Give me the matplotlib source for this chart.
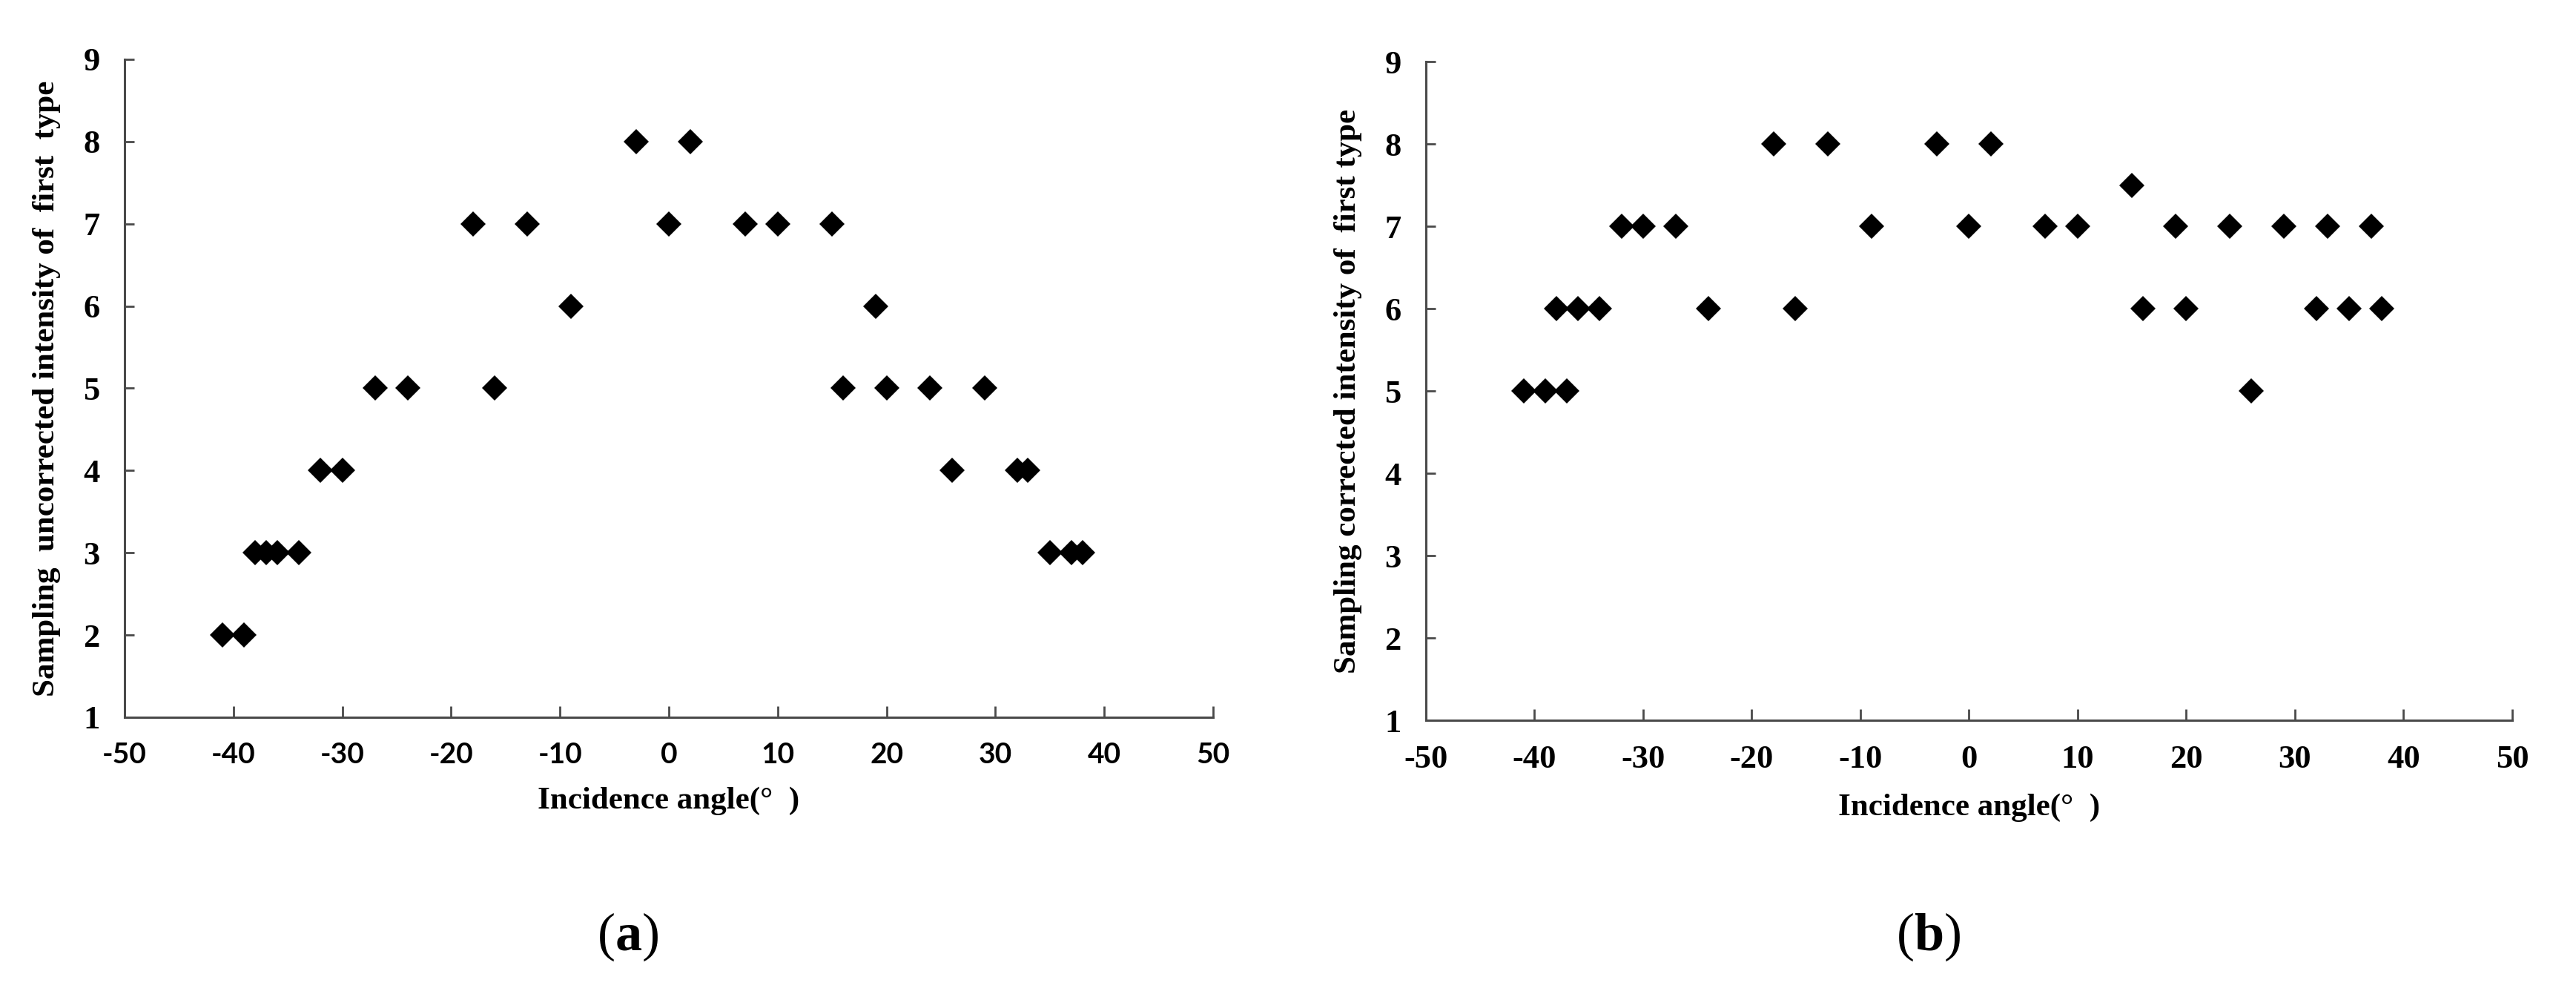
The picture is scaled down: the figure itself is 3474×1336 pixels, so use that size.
import matplotlib
matplotlib.use("Agg")
import matplotlib.pyplot as plt

# incidence angles (deg), same for both panels
angles = [-41, -39, -38, -37, -36, -34, -32, -30, -27, -24, -18, -16, -13, -9, -3,
          0, 2, 7, 10, 15, 16, 19, 20, 24, 26, 29, 32, 33, 35, 37, 38]
# (a) uncorrected intensity
uncorrected = [2, 2, 3, 3, 3, 3, 4, 4, 5, 5, 7, 5, 7, 6, 8,
               7, 8, 7, 7, 7, 5, 6, 5, 5, 4, 5, 4, 4, 3, 3, 3]
# (b) corrected intensity
corrected = [5, 5, 6, 5, 6, 6, 7, 7, 7, 6, 8, 6, 8, 7, 8,
             7, 8, 7, 7, 7.5, 6, 7, 6, 7, 5, 7, 6, 7, 6, 7, 6]

x_ticks = [-50, -40, -30, -20, -10, 0, 10, 20, 30, 40, 50]
y_ticks = [1, 2, 3, 4, 5, 6, 7, 8, 9]

plt.rcParams['axes.unicode_minus'] = False
plt.rcParams['mathtext.fontset'] = 'custom'
plt.rcParams['mathtext.rm'] = 'Liberation Serif'
plt.rcParams['mathtext.bf'] = 'Liberation Serif:bold'

serif = 'Liberation Serif'
axis_col = '#4a4a4a'

fig = plt.figure(figsize=(34.74, 13.36), dpi=100)
ax_a = fig.add_axes([0.04836, 0.2762, 0.42257, 0.66392])
ax_b = fig.add_axes([0.55354, 0.2732, 0.42170, 0.66467])

panels = [
    (ax_a, uncorrected, 'Sampling  uncorrected intensity of  first  type', True),
    (ax_b, corrected, 'Sampling corrected intensity of  first type', False),
]

for ax, vals, ylab, sans_x in panels:
    ax.plot(angles, vals, linestyle='none', marker='D', markersize=17,
            color='black', markeredgewidth=0)
    ax.set_xlim(-50, 50)
    ax.set_ylim(1, 9)
    ax.set_xticks(x_ticks)
    ax.set_yticks(y_ticks)
    for s in ['top', 'right']:
        ax.spines[s].set_visible(False)
    for s in ['left', 'bottom']:
        ax.spines[s].set_color(axis_col)
        ax.spines[s].set_linewidth(2.2)
    ax.tick_params(axis='x', direction='in', length=11, width=2, color=axis_col, pad=24)
    ax.tick_params(axis='y', direction='in', length=9, width=2, color=axis_col, pad=24)
    for lbl in ax.get_xticklabels():
        if sans_x:
            lbl.set_fontfamily('Lato')
            lbl.set_fontweight('bold')
            lbl.set_fontsize(28)
        else:
            lbl.set_fontfamily(serif)
            lbl.set_fontweight('bold')
            lbl.set_fontsize(32)
    for lbl in ax.get_yticklabels():
        lbl.set_fontfamily(serif)
        lbl.set_fontweight('bold')
        lbl.set_fontsize(32)
    ax.set_xlabel('Incidence angle(°  )', fontfamily=serif, fontweight='bold',
                  fontsize=31, labelpad=18)
    ax.set_ylabel(ylab, fontfamily=serif, fontweight='bold', fontsize=31, labelpad=22)

fig.text(847 / 3474, 1 - 1263 / 1336, r'($\mathbf{a}$)', fontfamily=serif,
         fontsize=52, ha='center', va='center')
fig.text(2601 / 3474, 1 - 1263 / 1336, r'($\mathbf{b}$)', fontfamily=serif,
         fontsize=52, ha='center', va='center')

fig.savefig('out.png', dpi=100)
